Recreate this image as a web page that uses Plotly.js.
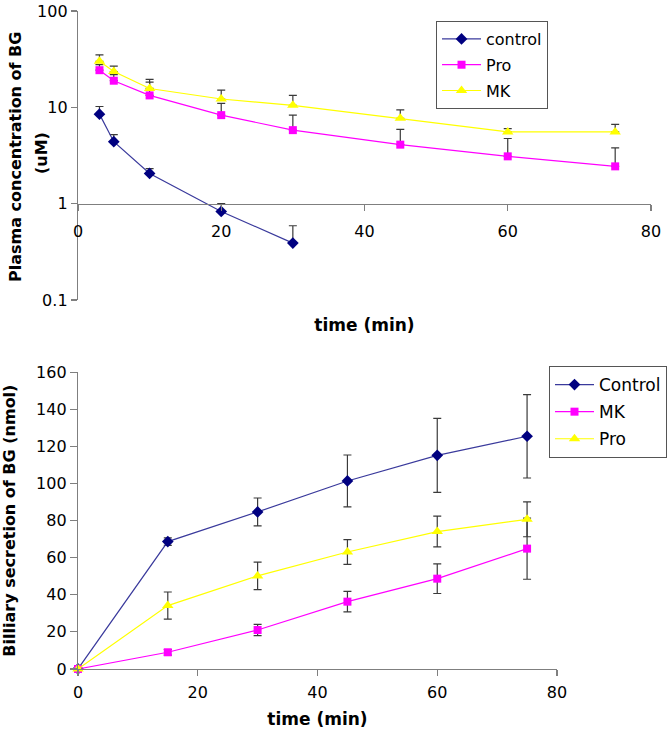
<!DOCTYPE html>
<html>
<head>
<meta charset="utf-8">
<script src="https://cdn.plot.ly/plotly-3.0.1.min.js"></script>
<style>html,body{margin:0;padding:0;background:#fff;}#chart{width:667px;height:730px;}</style>
</head>
<body>
<div id="chart"></div>
<script>
// ---------- Data: plasma concentration (top panel) ----------
var plasmaTimeControl = [3, 5, 10, 20, 30];
var plasmaControl     = [8.5, 4.4, 2.06, 0.83, 0.39];
var plasmaControlErr  = [1.7, 0.8, 0.25, 0.17, 0.2];

var plasmaTime   = [3, 5, 10, 20, 30, 45, 60, 75];
var plasmaPro    = [24.3, 18.9, 13.3, 8.3, 5.8, 4.1, 3.1, 2.44];
var plasmaProErr = [3.5, 3.0, 5.0, 2.7, 2.5, 1.8, 1.65, 1.35];
var plasmaMK     = [30.1, 23.5, 15.7, 12.2, 10.5, 7.7, 5.56, 5.56];
var plasmaMKErr  = [4.9, 3.3, 3.8, 2.9, 2.8, 1.7, 0.45, 1.1];

var plasmaLabels = ["control", "Pro", "MK"];
var plasmaYTicks = [0.1, 1, 10, 100];
var plasmaYTickText = ["0.1", "1", "10", "100"];

// ---------- Data: biliary secretion (bottom panel) ----------
var bileTime       = [0, 15, 30, 45, 60, 75];
var bileControl    = [0, 68.7, 84.7, 101.4, 115.2, 125.5];
var bileControlErr = [0, 2, 7.5, 14, 20, 22.5];
var bileMK         = [0, 9.0, 21.0, 36.3, 48.7, 64.9];
var bileMKErr      = [0, 1.5, 3, 5.5, 8, 16.5];
var bilePro        = [0, 34.2, 50.2, 63.1, 74.1, 80.7];
var bileProErr     = [0, 7.3, 7.4, 6.7, 8.3, 9.4];

var bileLabels = ["Control", "MK", "Pro"];
var xTicks = [0, 20, 40, 60, 80];

// ---------- Styles ----------
var FONT = "DejaVu Sans, Arial, sans-serif";
var NAVY = "#000080", NAVYLINE = "#3a3a9c", MAG = "#ff00ff", YEL = "#ffff00";
var ERRC = "#3a3a3a";
var AXC = "#7f7f7f";

function zeros(n){ var a=[]; for(var i=0;i<n;i++) a.push(0); return a; }

function trace(x, y, err, name, lineColor, markerColor, symbol, msize, xa, ya, leg, oneSided){
  var e = {type:'data', array: err, visible:true, color: ERRC, thickness:1.2, width:4};
  if (oneSided) { e.symmetric = false; e.arrayminus = zeros(err.length); }
  return {
    type:'scatter', mode:'lines+markers', x:x, y:y, name:name,
    xaxis:xa, yaxis:ya, legend:leg, legendgroup: leg + name,
    line:{color:lineColor, width:1.2},
    marker:{color:markerColor, symbol:symbol, size:msize, line:{width:0}},
    error_y:e, cliponaxis:false
  };
}

var data = [
  trace(plasmaTimeControl, plasmaControl, plasmaControlErr, plasmaLabels[0], NAVYLINE, NAVY, 'diamond', 9, 'x', 'y', 'legend', true),
  trace(plasmaTime, plasmaPro, plasmaProErr, plasmaLabels[1], MAG, MAG, 'square', 8, 'x', 'y', 'legend', true),
  trace(plasmaTime, plasmaMK, plasmaMKErr, plasmaLabels[2], YEL, YEL, 'triangle-up', 10, 'x', 'y', 'legend', true),
  trace(bileTime, bileControl, bileControlErr, bileLabels[0], NAVYLINE, NAVY, 'diamond', 9, 'x2', 'y2', 'legend2', false),
  trace(bileTime, bileMK, bileMKErr, bileLabels[1], MAG, MAG, 'square', 8, 'x2', 'y2', 'legend2', false),
  trace(bileTime, bilePro, bileProErr, bileLabels[2], YEL, YEL, 'triangle-up', 10, 'x2', 'y2', 'legend2', false)
];

var tickFont = {family:FONT, size:16, color:'#000'};
var titleFontX = {family:FONT, size:17, color:'#000', weight:'bold'};
var titleFontY = {family:FONT, size:16, color:'#000', weight:'bold'};

var layout = {
  width:667, height:730,
  margin:{l:0, r:0, t:0, b:0},
  paper_bgcolor:'#fff', plot_bgcolor:'rgba(0,0,0,0)',
  showlegend:true,
  xaxis:{
    domain:[0.1169, 0.9760], range:[0,80], anchor:'free', position:0.72098,
    tickvals:xTicks, ticks:'outside', ticklen:6, tickcolor:AXC, tickwidth:1.2,
    ticklabelstandoff:7,
    showline:true, linecolor:AXC, linewidth:1.2, showgrid:false, zeroline:false,
    tickfont:tickFont, automargin:false,
    title:{text:'time (min)', font:titleFontX, standoff:79}
  },
  yaxis:{
    domain:[0.5890, 0.98493], type:'log', range:[-1,2], anchor:'x',
    tickvals:plasmaYTicks, ticktext:plasmaYTickText, ticklabeloverflow:'allow',
    ticks:'outside', ticklen:6, tickcolor:AXC, tickwidth:1.2,
    showline:true, linecolor:AXC, linewidth:1.2, showgrid:false, zeroline:false,
    tickfont:tickFont, automargin:false
  },
  xaxis2:{
    domain:[0.1169, 0.8351], range:[0,80], anchor:'y2',
    tickvals:xTicks, ticks:'outside', ticklen:6, tickcolor:AXC, tickwidth:1.2,
    ticklabelstandoff:3,
    showline:true, linecolor:AXC, linewidth:1.2, showgrid:false, zeroline:false,
    tickfont:tickFont, automargin:false,
    title:{text:'time (min)', font:titleFontX, standoff:11}
  },
  yaxis2:{
    domain:[0.0836, 0.4900], range:[0,160], anchor:'x2', dtick:20,
    ticks:'outside', ticklen:7, tickcolor:AXC, tickwidth:1.2,
    showline:true, linecolor:AXC, linewidth:1.2, showgrid:false, zeroline:false,
    tickfont:tickFont, automargin:false,
    title:{text:'Billiary secretion of BG (nmol)', font:titleFontY, standoff:16}
  },
  legend:{
    x:0.6537, y:0.9712, xanchor:'left', yanchor:'top',
    bgcolor:'#fff', bordercolor:'#555', borderwidth:1,
    font:{family:FONT, size:16, color:'#000'},
    traceorder:'grouped', tracegroupgap:2, itemwidth:39
  },
  legend2:{
    x:0.8231, y:0.4986, xanchor:'left', yanchor:'top',
    bgcolor:'#fff', bordercolor:'#555', borderwidth:1,
    font:{family:FONT, size:17, color:'#000'},
    traceorder:'grouped', tracegroupgap:2, itemwidth:39
  },
  annotations:[
    {text:'Plasma concentration of BG', xref:'paper', yref:'paper', x:15/667, y:1-157/730,
     xanchor:'center', yanchor:'middle', textangle:-90, showarrow:false, font:titleFontY},
    {text:'(uM)', xref:'paper', yref:'paper', x:42/667, y:1-153/730,
     xanchor:'center', yanchor:'middle', textangle:-90, showarrow:false, font:titleFontY}
  ]
};

Plotly.newPlot('chart', data, layout, {staticPlot:true, displayModeBar:false});
</script>
</body>
</html>
